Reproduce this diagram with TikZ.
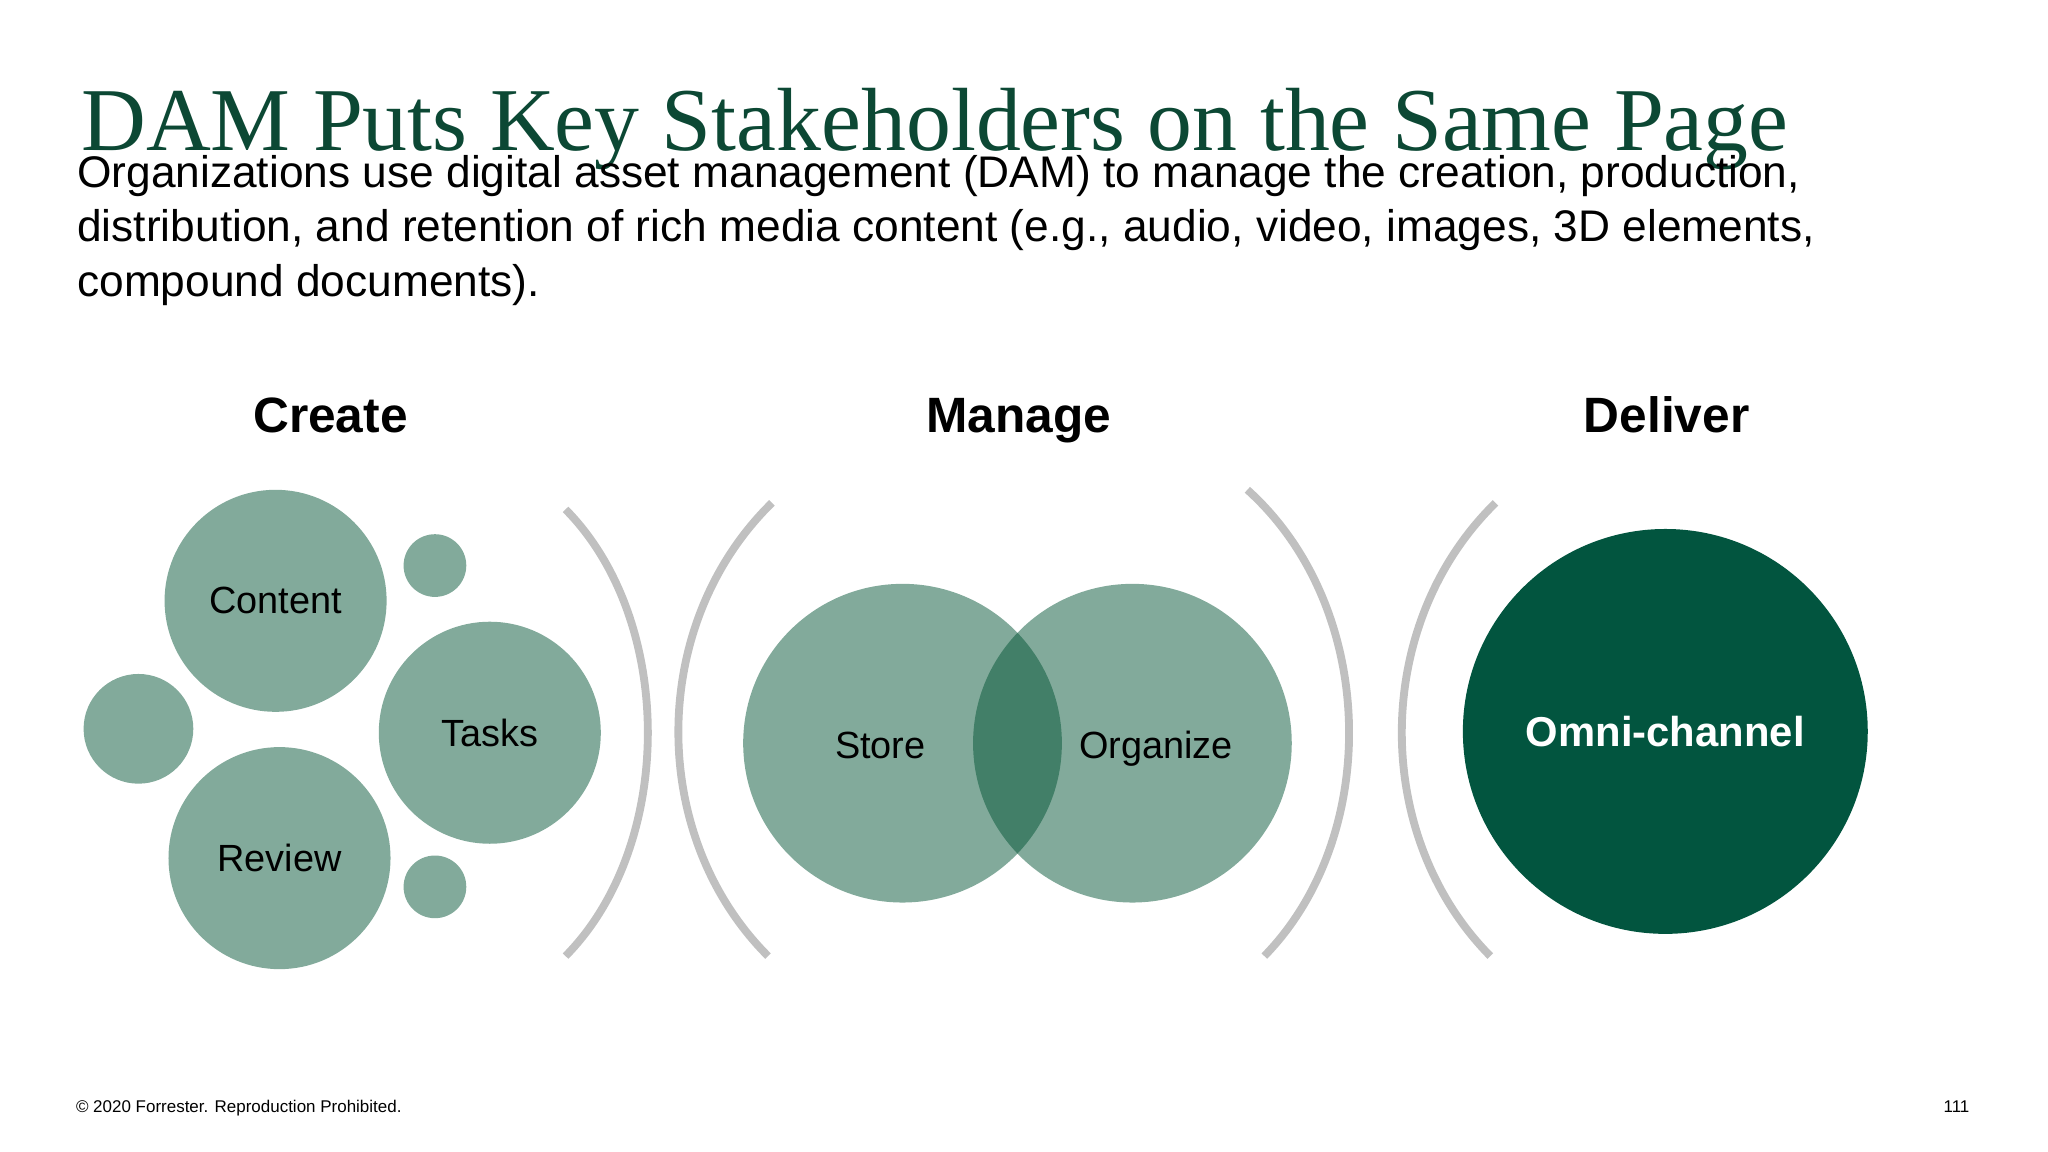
\documentclass[tikz,border=0pt]{standalone}
\usepackage{fontspec}
\setmainfont{Liberation Sans}
\newfontfamily\titlefont{Liberation Serif}
\definecolor{titlegreen}{RGB}{12,72,52}
\definecolor{lightg}{RGB}{130,170,155}
\definecolor{venng}{RGB}{0,82,51}
\definecolor{darkg}{RGB}{2,85,63}
\definecolor{brk}{RGB}{192,192,192}
\begin{document}
\begin{tikzpicture}[x=1pt,y=-1pt,
  bub/.style={circle,fill=lightg,inner sep=0pt,minimum size=#1*2pt,font=\fontsize{29}{34}\selectfont},
  venn/.style={circle,fill=venng,fill opacity=0.49,text opacity=1,inner sep=0pt,minimum size=244pt},
  head/.style={anchor=base,font=\bfseries\fontsize{38}{44}\selectfont},
  paren/.style={draw=brk,line width=6pt},
  vlabel/.style={anchor=base,font=\fontsize{29}{34}\selectfont}]
\useasboundingbox (0,0) rectangle (1568,882);
\node[anchor=base west,inner sep=0pt,text=titlegreen,font=\titlefont\fontsize{68.7}{72}\selectfont] (title) at (62,115) {DAM Puts Key Stakeholders on the Same Page};
\node[anchor=north west,inner sep=0pt,align=left,font=\fontsize{33.9}{41.5}\selectfont] (body) at (59,119) {Organizations use digital asset management (DAM) to manage the creation, production,\\distribution, and retention of rich media content (e.g., audio, video, images, 3D elements,\\compound documents).};
\node[head] (create) at (253,331) {Create};
\node[head] (manage) at (780,331) {Manage};
\node[head] (deliver) at (1276,331) {Deliver};
% create bubbles
\node[bub=85] (content) at (211,460) {Content};
\node[bub=85] (tasks) at (375,561) {Tasks};
\node[bub=85] (review) at (214,657) {Review};
\node[bub=24] (s1) at (333,433) {};
\node[bub=42] (s2) at (106,558) {};
\node[bub=24] (s3) at (333,679) {};
% venn
\node[venn] (store) at (691,569) {};
\node[venn] (organize) at (867,569) {};
\node[vlabel] (storet) at (674,581) {Store};
\node[vlabel] (orgt) at (885,581) {Organize};
% deliver
\node[circle,fill=darkg,minimum size=310pt,inner sep=0pt,text=white,font=\bfseries\fontsize{32}{36}\selectfont] (omni) at (1275,560) {Omni-channel};
% parentheses
\coordinate (p1a) at (433,390); \coordinate (p1b) at (433,732);
\coordinate (p2a) at (591,385); \coordinate (p2b) at (588,732);
\coordinate (p3a) at (955,375); \coordinate (p3b) at (968,732);
\coordinate (p4a) at (1145,385); \coordinate (p4b) at (1141,732);
\draw[paren] (p1a) .. controls (517,475) and (517,647) .. (p1b);
\draw[paren] (p2a) .. controls (496,478) and (496,640) .. (p2b);
\draw[paren] (p3a) .. controls (1055,465) and (1058,640) .. (p3b);
\draw[paren] (p4a) .. controls (1050,478) and (1050,640) .. (p4b);
% footer
\node[anchor=base west,inner sep=0pt,font=\fontsize{13}{15}\selectfont] (copy) at (58,852) {© 2020 Forrester. Reproduction Prohibited.};
\node[anchor=base east,inner sep=0pt,font=\fontsize{13}{15}\selectfont] (pg) at (1508,852) {111};
\end{tikzpicture}
\end{document}
